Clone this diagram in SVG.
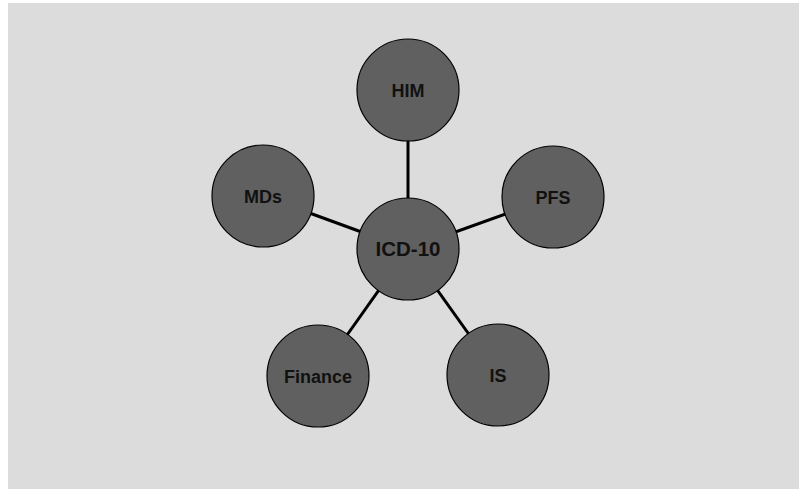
<svg xmlns="http://www.w3.org/2000/svg" width="799" height="489" viewBox="0 0 799 489">
<style>
.n circle{fill:#606060;stroke:#000;stroke-width:1.2}
.n text{font-family:"Liberation Sans",Arial,sans-serif;font-weight:bold;font-size:18px;fill:#111;text-anchor:middle}
.c line{stroke:#000;stroke-width:3}
</style>
<rect x="0" y="0" width="799" height="489" fill="#fff"/>
<rect x="8" y="3" width="791" height="486" fill="#dcdcdc"/>
<g id="connectors" class="c">
<line x1="408" y1="249" x2="408" y2="90"/>
<line x1="408" y1="249" x2="263" y2="196"/>
<line x1="408" y1="249" x2="553" y2="197"/>
<line x1="408" y1="249" x2="318" y2="376"/>
<line x1="408" y1="249" x2="498" y2="375"/>
</g>
<g id="him" class="n"><circle cx="408" cy="90" r="51"/><text x="408" y="96.5">HIM</text></g>
<g id="mds" class="n"><circle cx="263" cy="196" r="51"/><text x="263" y="202.5">MDs</text></g>
<g id="pfs" class="n"><circle cx="553" cy="197" r="51"/><text x="553" y="203.5">PFS</text></g>
<g id="finance" class="n"><circle cx="318" cy="376" r="51"/><text x="318" y="382.5">Finance</text></g>
<g id="is" class="n"><circle cx="498" cy="375" r="51"/><text x="498" y="381.5">IS</text></g>
<g id="icd10" class="n"><circle cx="408" cy="249" r="51"/><text x="408" y="256" style="font-size:20.5px">ICD-10</text></g>
</svg>
